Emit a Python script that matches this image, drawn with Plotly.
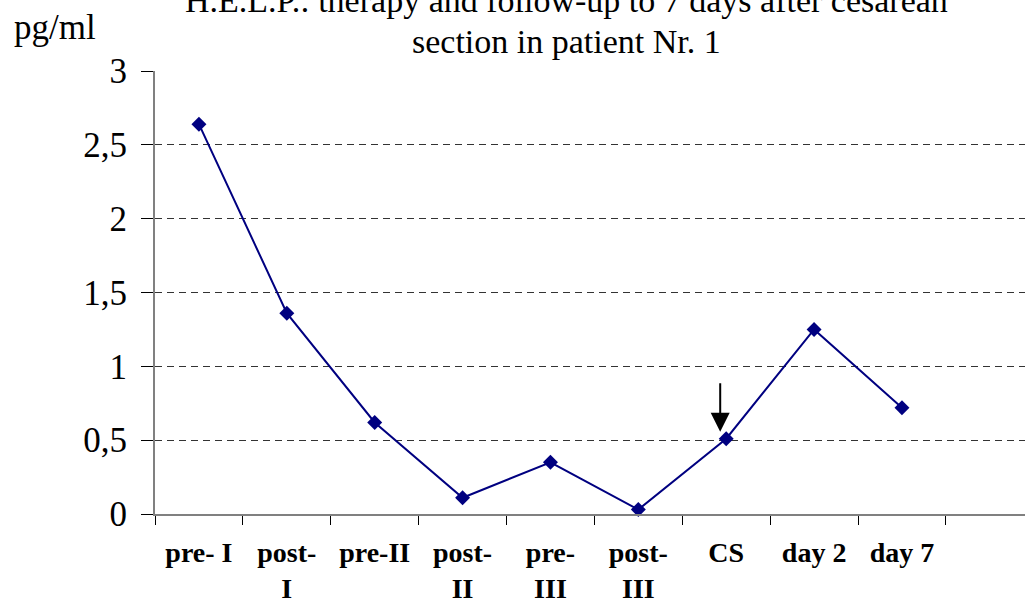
import plotly.graph_objects as go

categories = ["pre- I", "post-<br>I", "pre-II", "post-<br>II", "pre-<br>III",
              "post-<br>III", "CS", "day 2", "day 7"]
values = [2.64, 1.36, 0.62, 0.11, 0.35, 0.03, 0.51, 1.25, 0.72]
y_ticks = [0, 0.5, 1, 1.5, 2, 2.5, 3]
y_labels = ["0", "0,5", "1", "1,5", "2", "2,5", "3"]
title_lines = ["H.E.L.P.: therapy and follow-up to 7 days after cesarean",
               "section in patient Nr. 1"]
y_unit = "pg/ml"
arrow_at = "CS"

SERIF = "Liberation Serif"
NAVY = "#000080"

fig = go.Figure()
fig.add_trace(go.Scatter(
    x=categories, y=values, mode="lines+markers",
    line=dict(color=NAVY, width=2),
    marker=dict(symbol="diamond", size=11.5, color=NAVY),
    showlegend=False, cliponaxis=False,
))

fig.update_layout(
    width=1025, height=606,
    margin=dict(l=155, r=0, t=71, b=92, autoexpand=False),
    paper_bgcolor="white", plot_bgcolor="white",
    font=dict(family=SERIF, color="black"),
    xaxis=dict(
        type="category", categoryorder="array", categoryarray=categories,
        range=[-0.5, 9.4], tickson="boundaries", automargin=False,
        ticks="outside", ticklen=9, tickcolor="black", tickwidth=1,
        showline=True, linecolor="#808080", linewidth=2,
        showgrid=False, zeroline=False,
        tickfont=dict(family=SERIF, size=28, color="black", weight="bold"),
        ticklabelstandoff=12,
    ),
    yaxis=dict(
        range=[0, 3], tickvals=y_ticks, ticktext=y_labels, automargin=False,
        ticks="outside", ticklen=12, tickcolor="black", tickwidth=1,
        showline=True, linecolor="#808080", linewidth=2,
        showgrid=True, gridcolor="#333333", gridwidth=1, griddash="7px,5px",
        zeroline=False,
        tickfont=dict(family=SERIF, size=35, color="black"),
        ticklabelstandoff=7,
    ),
)

# title lines (first line partially cut at the top like in the reference)
fig.add_annotation(text=title_lines[0], xref="paper", yref="paper",
                   x=(566 - 155) / 870, y=1 + (71 - 12) / 443,
                   xanchor="center", yanchor="bottom", yshift=-9,
                   showarrow=False, font=dict(family=SERIF, size=34, color="black"))
fig.add_annotation(text=title_lines[1], xref="paper", yref="paper",
                   x=(566 - 155) / 870, y=1 + (71 - 53) / 443,
                   xanchor="center", yanchor="bottom", yshift=-9,
                   showarrow=False, font=dict(family=SERIF, size=34, color="black"))
fig.add_annotation(text=y_unit, xref="paper", yref="paper",
                   x=-(155 - 12) / 870, y=1 + (71 - 40) / 443,
                   xanchor="left", yanchor="bottom", yshift=-9,
                   showarrow=False, font=dict(family=SERIF, size=35, color="black"))

# arrow marking the cesarean section
cs_idx = categories.index(arrow_at)
fig.add_annotation(x=arrow_at, y=values[cs_idx], text="", showarrow=True,
                   arrowhead=2, arrowsize=1.9, arrowwidth=2, arrowcolor="black",
                   ax=0, ay=-57, standoff=7, xshift=-6)

fig.write_html("out.html")
